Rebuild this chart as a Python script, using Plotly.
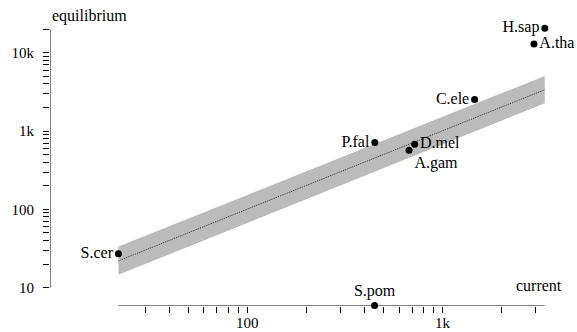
import plotly.graph_objects as go

species = ["H.sap", "A.tha", "C.ele", "P.fal", "D.mel", "A.gam", "S.cer", "S.pom"]
current = [3340, 2940, 1460, 450, 720, 674, 21.9, 449]
equilibrium = [20500, 12980, 2520, 714, 679, 570, 27.1, 5.9]
label_pos = ["middle left", "middle right", "middle left", "middle left",
             "middle right", "bottom right", "middle left", "top center"]

fit_x = [21.9, 3340]
fit_y = [22.0, 3370]
band_lo = [14.6, 2260]
band_hi = [33.5, 5060]

x_tickvals = [30, 40, 50, 60, 70, 80, 90, 100, 200, 300, 400, 500, 600, 700, 800, 900, 1000, 2000, 3000]
x_ticklabels = {100: "100", 1000: "1k"}
y_tickvals = [10, 20, 30, 40, 50, 60, 70, 80, 90, 100, 200, 300, 400, 500, 600, 700, 800, 900,
              1000, 2000, 3000, 4000, 5000, 6000, 7000, 8000, 9000, 10000, 20000]
y_ticklabels = {10: "10", 100: "100", 1000: "1k", 10000: "10k"}

FONT = "Liberation Serif"
xr = [0.99, 3.53]
yr = [0.766, 4.316]

fig = go.Figure()

# confidence band
fig.add_trace(go.Scatter(
    x=fit_x + fit_x[::-1], y=band_hi + band_lo[::-1],
    fill="toself", fillcolor="#bbbbbb", mode="none", hoverinfo="skip",
    showlegend=False))

# fit line
fig.add_trace(go.Scatter(
    x=fit_x, y=fit_y, mode="lines",
    line=dict(color="#333333", width=1, dash="1px,1px"),
    showlegend=False, hoverinfo="skip"))

# axis lines
fig.add_trace(go.Scatter(
    x=[10 ** xr[0], 10 ** xr[0]], y=[min(y_tickvals), max(y_tickvals)],
    mode="lines", line=dict(color="black", width=1), showlegend=False,
    hoverinfo="skip", cliponaxis=False))
fig.add_trace(go.Scatter(
    x=[min(current), max(current)], y=[10 ** yr[0], 10 ** yr[0]],
    mode="lines", line=dict(color="black", width=1), showlegend=False,
    hoverinfo="skip", cliponaxis=False))

# points
fig.add_trace(go.Scatter(
    x=current, y=equilibrium, mode="markers+text",
    text=species, textposition=label_pos,
    textfont=dict(family=FONT, size=16, color="black"),
    marker=dict(color="black", size=7),
    cliponaxis=False, showlegend=False))

fig.add_annotation(text="equilibrium", xref="paper", yref="paper", x=0, y=1.043,
                   xanchor="left", yanchor="middle", showarrow=False,
                   font=dict(family=FONT, size=16, color="black"))
fig.add_annotation(text="current", xref="paper", yref="paper", x=1.036, y=0.0755,
                   xanchor="right", yanchor="middle", showarrow=False,
                   font=dict(family=FONT, size=16, color="black"))

fig.update_layout(
    width=577, height=332,
    margin=dict(l=50, r=31, t=28, b=26, autoexpand=False),
    plot_bgcolor="white", paper_bgcolor="white",
    xaxis=dict(type="log", range=xr, showgrid=False, zeroline=False, showline=False,
               automargin=False,
               tickmode="array", tickvals=x_tickvals,
               ticktext=[x_ticklabels.get(v, "") for v in x_tickvals],
               ticks="outside", ticklen=6, tickcolor="black", tickwidth=1,
               ticklabelstandoff=-3,
               tickfont=dict(family=FONT, size=15, color="black")),
    yaxis=dict(type="log", range=yr, showgrid=False, zeroline=False, showline=False,
               automargin=False,
               tickmode="array", tickvals=y_tickvals,
               ticktext=[y_ticklabels.get(v, "") for v in y_tickvals],
               ticks="outside", ticklen=6, tickcolor="black", tickwidth=1,
               ticklabelstandoff=6,
               tickfont=dict(family=FONT, size=15, color="black")),
)

fig.write_html("out.html", config={"displayModeBar": False},
               post_script="document.body.style.margin='0';document.body.style.overflow='hidden';")
